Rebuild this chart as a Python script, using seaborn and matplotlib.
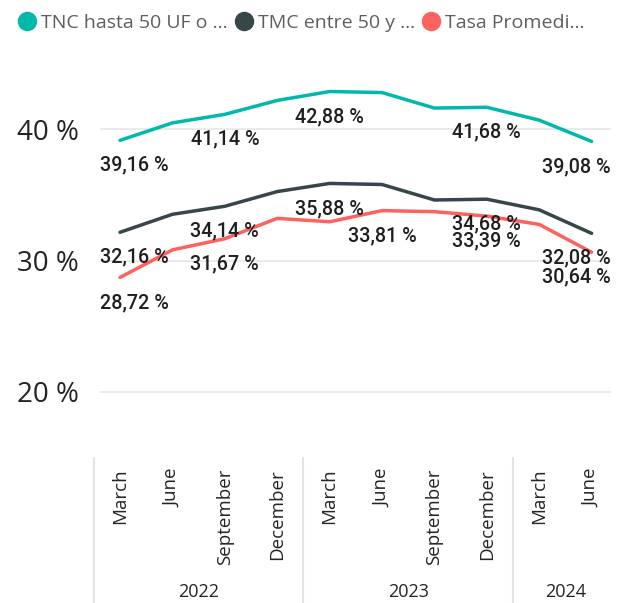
import matplotlib
matplotlib.use("Agg")
import matplotlib.pyplot as plt
import matplotlib.transforms as mtransforms
from matplotlib.lines import Line2D
import pandas as pd
import seaborn as sns

# datos trimestrales (marzo 2022 - junio 2024)
meses = ["March", "June", "September", "December",
         "March", "June", "September", "December",
         "March", "June"]
anios = ["2022", "2023", "2024"]
meses_por_anio = [4, 4, 2]

tnc = [39.16, 40.49, 41.14, 42.20, 42.88, 42.80, 41.62, 41.68, 40.70, 39.08]
tmc = [32.16, 33.53, 34.14, 35.26, 35.88, 35.80, 34.62, 34.68, 33.87, 32.08]
tasa = [28.72, 30.82, 31.67, 33.22, 32.96, 33.81, 33.73, 33.39, 32.76, 30.64]

series = ["TNC hasta 50 UF o ...", "TMC entre 50 y ...", "Tasa Promedi..."]
colores = ["#01B8AA", "#374649", "#FD625E"]
# puntos con etiqueta visible
etiquetas = [[0, 2, 4, 7, 9], [0, 2, 4, 7, 9], [0, 2, 5, 7, 9]]

df = pd.DataFrame({
    "idx": list(range(len(meses))) * 3,
    "valor": tnc + tmc + tasa,
    "serie": [s for s in series for _ in meses],
})

sns.set_style("white")
plt.rcParams["font.family"] = ["Open Sans", "DejaVu Sans"]

fig = plt.figure(figsize=(6.38, 6.03), dpi=100)
W, H = 638, 603
ax = fig.add_axes([100 / W, (H - 455) / H, 511 / W, 395 / H])

sns.lineplot(data=df, x="idx", y="valor", hue="serie", palette=colores,
             hue_order=series, linewidth=2.5, ax=ax, legend=False)

ax.set_xlim(-0.382, 9.37)
ax.set_ylim(15.2, 45.28)
ax.set_yticks([20, 30, 40])
ax.set_yticklabels(["20 %", "30 %", "40 %"], fontsize=20, color="#252423")
ax.tick_params(axis="y", length=0, pad=15)
ax.set_xticks([])
ax.set_xlabel("")
ax.set_ylabel("")
for v in [20, 30, 40]:
    ax.axhline(v, color="#e6e6e6", lw=1.2, zorder=0)
for s in ax.spines.values():
    s.set_visible(False)

# etiquetas de datos
for vals, idxs in zip([tnc, tmc, tasa], etiquetas):
    for i in idxs:
        txt = f"{vals[i]:.2f} %".replace(".", ",")
        if i == 0:
            xy, xc, ha = (0, vals[i]), ("axes fraction", "data"), "left"
        elif i == len(meses) - 1:
            xy, xc, ha = (1, vals[i]), ("axes fraction", "data"), "right"
        else:
            xy, xc, ha = (i, vals[i]), "data", "center"
        ax.annotate(txt, xy=xy, xycoords=xc, xytext=(0, -18),
                    textcoords="offset points", ha=ha, va="center",
                    fontsize=14.2, fontfamily="Roboto", fontweight="medium",
                    color="#1f1f1f")

# eje x jerarquico
trans = mtransforms.blended_transform_factory(ax.transData, ax.transAxes)
for i, m in enumerate(meses):
    ax.text(i, -0.035, m, transform=trans, rotation=90, ha="center", va="top",
            fontsize=13.5, color="#252423")
inicio = 0
for anio, n in zip(anios, meses_por_anio):
    ax.text(inicio + (n - 1) / 2, -0.346, anio, transform=trans, ha="center",
            va="center", fontsize=13, color="#252423")
    ax.plot([inicio - 0.5, inicio - 0.5], [-0.008, -0.375], transform=trans,
            color="#e3e3e3", lw=1.5, clip_on=False)
    inicio += n

# leyenda
handles = [Line2D([], [], marker="o", linestyle="", markersize=13,
                  markerfacecolor=c, markeredgecolor=c) for c in colores]
fig.legend(handles, series, loc="upper left", bbox_to_anchor=(0.0, 1.0),
           ncol=3, frameon=False, fontsize=14, handletextpad=0.0,
           columnspacing=0.15, handlelength=1.4, borderaxespad=0.3,
           labelcolor="#605E5C")

fig.savefig("out.png", dpi=100)
